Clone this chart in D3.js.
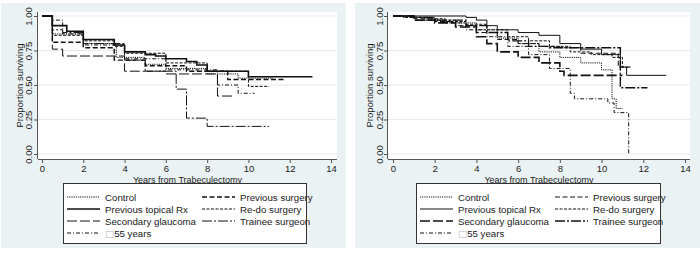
<!DOCTYPE html>
<html>
<head>
<meta charset="utf-8">
<script src="https://cdn.jsdelivr.net/npm/d3@7"></script>
<style>
  body { margin: 0; background: #fff; }
  text { font-family: "Liberation Sans", Arial, sans-serif; fill: #1a1a1a; }
</style>
</head>
<body>
<div id="chart"></div>
<script>
// Group names, in legend order
var groups = ['Control', 'Previous surgery', 'Previous topical Rx', 'Re-do surgery',
              'Secondary glaucoma', 'Trainee surgeon', '\u25A155 years']

var xTicks = [0, 2, 4, 6, 8, 10, 12, 14]
var yTicks = [0, 0.25, 0.5, 0.75, 1]

// Left panel: step points [years, proportion] and last follow-up time
var leftControl = [[0,1],[0.5,0.87],[2,0.80],[3.6,0.70],[5,0.65],[6,0.62],[8,0.58],[9.5,0.55]]
var leftPrevSurgery = [[0,1],[0.5,0.81],[2,0.77],[3.5,0.68],[5,0.64],[7,0.60],[9,0.54]]
var leftTopical = [[0,1],[0.5,0.93],[1.2,0.89],[2,0.83],[3.5,0.79],[4,0.74],[5,0.72],[5.5,0.71],[6,0.69],[7,0.67],[7.5,0.645],[8,0.60],[10,0.56]]
var leftRedo = [[0,1],[0.5,0.86],[2,0.82],[3.5,0.78],[4,0.73],[6,0.66],[8,0.60],[10,0.49]]
var leftSecondary = [[0,1],[0.5,0.76],[1,0.71],[4,0.60],[6,0.58],[8.5,0.42]]
var leftTrainee = [[0,1],[0.5,0.90],[1,0.88],[2,0.80],[4,0.68],[5,0.60],[6.5,0.47],[7,0.26],[8,0.20]]
var leftOver55 = [[0,1],[0.5,0.97],[1,0.87],[2,0.79],[4,0.69],[6,0.61],[8.5,0.50],[9.5,0.44]]
var leftEnds = [11.2, 11.8, 13.1, 11, 9.3, 11, 10.3]

// Right panel
var rightControl = [[0,1],[1,0.99],[2,0.97],[3,0.95],[4,0.90],[5,0.84],[6,0.80],[7,0.74],[8,0.70],[9,0.66],[10,0.61],[10.5,0.40],[10.7,0.33]]
var rightPrevSurgery = [[0,1],[1,0.98],[2,0.96],[3,0.93],[4,0.88],[5,0.83],[6,0.80],[7,0.78],[8,0.77],[9,0.73],[10.8,0.63]]
var rightTopical = [[0,1],[3.5,0.99],[4,0.97],[4.5,0.93],[5,0.90],[6,0.88],[7,0.86],[8,0.80],[9,0.76],[10,0.72],[10.9,0.63],[11.2,0.57]]
var rightRedo = [[0,1],[0.5,0.99],[1.5,0.98],[2.5,0.96],[3.5,0.94],[4.5,0.90],[5.5,0.85],[6.5,0.82],[7.5,0.78],[8.5,0.74],[9.5,0.72],[10.5,0.70],[11,0.63]]
var rightSecondary = [[0,1],[1,0.97],[2,0.95],[3,0.92],[4,0.85],[4.5,0.80],[5,0.74],[6,0.70],[7,0.66],[8,0.60],[8.2,0.57]]
var rightTrainee = [[0,1],[1,0.99],[2,0.97],[3.5,0.93],[4.5,0.88],[5.5,0.82],[6.5,0.78],[7.5,0.77],[10.9,0.48]]
var rightOver55 = [[0,1],[0.5,0.99],[1.5,0.97],[2.5,0.95],[3.5,0.90],[4.5,0.85],[5.5,0.78],[6.5,0.72],[7.5,0.62],[8.5,0.44],[8.7,0.40],[10.3,0.37],[10.6,0.30],[11.3,0]]
var rightEnds = [11.0, 11.4, 13.1, 11.3, 11.0, 12.2, 11.3]

// line look per group (legend order)
var dashes = ['1.2,1', '5,2.5', null, '3,1.5', '10,3', '10,2,2,2', '4,2,1,2']
var leftWidths = [1, 1.4, 1.6, 1, 1, 1, 1]
var rightWidths = [1, 1, 1, 1, 1.6, 1.4, 1]

var panels = [
  {x0: 1, x1: 346, plotL: 38, plotR: 337, xr: [42, 331], yTitleX: 20, yTickX: 28.5, legL: 63, legR: 306,
   series: [leftControl, leftPrevSurgery, leftTopical, leftRedo, leftSecondary, leftTrainee, leftOver55], ends: leftEnds, widths: leftWidths},
  {x0: 355, x1: 700, plotL: 388, plotR: 690, xr: [393, 685], yTitleX: 370, yTickX: 379.5, legL: 416, legR: 660,
   series: [rightControl, rightPrevSurgery, rightTopical, rightRedo, rightSecondary, rightTrainee, rightOver55], ends: rightEnds, widths: rightWidths}
]

var svg = d3.select('#chart').append('svg')
  .attr('width', 700)
  .attr('height', 256)

var plotTop = 12, plotBottom = 159

panels.forEach(p => {
  var g = svg.append('g')

  // graph region and plot region
  g.append('rect').attr('x', p.x0).attr('y', 3).attr('width', p.x1 - p.x0).attr('height', 245).attr('fill', '#eaf2f3')
  g.append('rect').attr('x', p.plotL).attr('y', plotTop).attr('width', p.plotR - p.plotL).attr('height', plotBottom - plotTop).attr('fill', '#fff')

  var xScale = d3.scaleLinear().domain([0, 14]).range(p.xr)
  var yScale = d3.scaleLinear().domain([0, 1]).range([154, 16])

  // gridlines
  g.selectAll('.grid').data(yTicks).enter().append('line')
    .attr('x1', p.plotL).attr('x2', p.plotR)
    .attr('y1', d => yScale(d)).attr('y2', d => yScale(d))
    .attr('stroke', '#e3eced').attr('stroke-width', 1)

  // axes
  var xAxis = g.append('g')
    .attr('transform', 'translate(0,' + plotBottom + ')')
    .call(d3.axisBottom(xScale).tickValues(xTicks).tickSize(4).tickPadding(2))
  xAxis.select('.domain').attr('d', 'M' + p.plotL + ',0.5H' + p.plotR).attr('stroke', '#555')
  xAxis.selectAll('line').attr('stroke', '#555')
  xAxis.selectAll('text').attr('font-size', 9.5).attr('fill', '#1a1a1a').attr('y', 6).attr('dy', '0.72em')

  var yAxis = g.append('g')
    .attr('transform', 'translate(' + p.plotL + ',0)')
    .call(d3.axisLeft(yScale).tickValues(yTicks).tickSize(4).tickFormat(d3.format('.2f')))
  yAxis.select('.domain').attr('d', 'M-0.5,' + plotTop + 'V' + plotBottom).attr('stroke', '#555')
  yAxis.selectAll('line').attr('stroke', '#555')
  // tick groups already sit at yScale(d), so only shift left and turn
  yAxis.selectAll('text')
    .attr('font-size', 9.5).attr('fill', '#1a1a1a')
    .attr('x', null).attr('y', null).attr('dy', null)
    .attr('text-anchor', 'middle')
    .attr('transform', 'translate(' + (p.yTickX - p.plotL + 3.5) + ',0) rotate(-90)')

  // axis titles
  g.append('text')
    .attr('x', (p.plotL + p.plotR) / 2).attr('y', 182.5)
    .attr('text-anchor', 'middle').attr('font-size', 9)
    .text('Years from Trabeculectomy')
  g.append('text')
    .attr('transform', 'translate(' + (p.yTitleX + 3) + ',' + ((plotTop + plotBottom) / 2) + ') rotate(-90)')
    .attr('text-anchor', 'middle').attr('font-size', 9.5)
    .text('Proportion surviving')

  // survival curves
  var line = d3.line()
    .x(d => xScale(d[0]))
    .y(d => yScale(d[1]))
    .curve(d3.curveStepAfter)

  p.series.forEach((s, i) => {
    var pts = s.concat([[p.ends[i], s[s.length - 1][1]]])
    g.append('path')
      .attr('d', line(pts))
      .attr('fill', 'none')
      .attr('stroke', '#111')
      .attr('stroke-width', p.widths[i])
      .attr('stroke-dasharray', dashes[i])
  })

  // legend
  g.append('rect').attr('x', p.legL + 0.5).attr('y', 183.5).attr('width', p.legR - p.legL).attr('height', 60)
    .attr('fill', '#fff').attr('stroke', '#333').attr('stroke-width', 1)

  groups.forEach((name, i) => {
    var col = i % 2, row = Math.floor(i / 2)
    var lx = p.legL + 4 + col * 135
    var ly = 197 + row * 12
    g.append('line')
      .attr('x1', lx).attr('x2', lx + 33)
      .attr('y1', ly).attr('y2', ly)
      .attr('stroke', '#111')
      .attr('stroke-width', p.widths[i])
      .attr('stroke-dasharray', dashes[i])
    var t = g.append('text')
      .attr('x', lx + 38).attr('y', ly + 3.5)
      .attr('font-size', 9.7)
    if (i == 6) {
      t.append('tspan').attr('fill', '#bbb').attr('font-family', 'DejaVu Sans').text('\u25A1')
      t.append('tspan').text('55 years')
    } else {
      t.text(name)
    }
  })
})
</script>
</body>
</html>
